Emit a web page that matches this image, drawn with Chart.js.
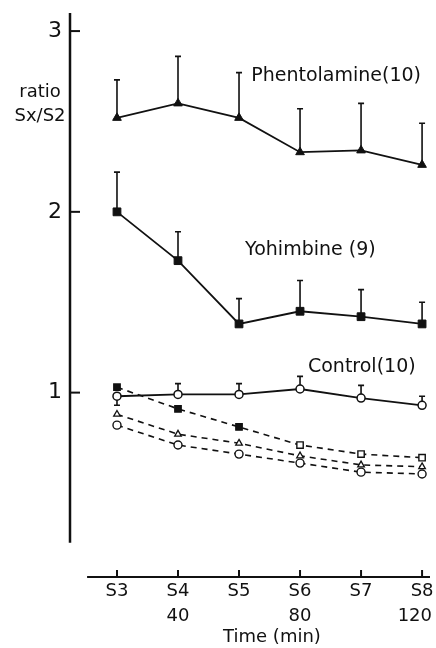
<!DOCTYPE html>
<html>
<head>
<meta charset="utf-8">
<script src="https://cdn.jsdelivr.net/npm/chart.js@4.4.1/dist/chart.umd.min.js"></script>
<style>
  html, body { margin: 0; padding: 0; background: #fff; }
  #wrap { width: 436px; height: 648px; }
</style>
</head>
<body>
<div id="wrap"><canvas id="myChart"></canvas></div>
<script>
'use strict';

// 軸ラベル
const stages = ['S3', 'S4', 'S5', 'S6', 'S7', 'S8'];
const minutes = ['', '40', '', '80', '', '120'];
const yTicks = [1, 2, 3];

// 実線の系列（平均値とSEM）
const phentolamine = [2.52, 2.60, 2.52, 2.33, 2.34, 2.26];
const phentolamineErr = [0.21, 0.26, 0.25, 0.24, 0.26, 0.23];
const yohimbine = [2.00, 1.73, 1.38, 1.45, 1.42, 1.38];
const yohimbineErr = [0.22, 0.16, 0.14, 0.17, 0.15, 0.12];
const control = [0.98, 0.99, 0.99, 1.02, 0.97, 0.93];
// マイナスは下向きのエラーバー
const controlErr = [-0.05, 0.06, 0.06, 0.07, 0.07, 0.05];

// 破線の系列
const dashSquare = [1.03, 0.91, 0.81, 0.71, 0.66, 0.64];
const dashSquareFilled = [true, true, true, false, false, false];
const dashTriangle = [0.88, 0.77, 0.72, 0.65, 0.60, 0.59];
const dashCircle = [0.82, 0.71, 0.66, 0.61, 0.56, 0.55];

const INK = '#111';
const FONT = '"DejaVu Sans", sans-serif';

function toXY(vals) {
    return vals.map((v, i) => ({ x: i, y: v }));
}

// 軸線・目盛り・エラーバー・文字
const decorations = {
    id: 'decorations',
    beforeDatasetsDraw(chart) {
        const ctx = chart.ctx;
        const xs = chart.scales.x, ys = chart.scales.y;
        const area = chart.chartArea;
        ctx.save();
        ctx.strokeStyle = INK;
        ctx.lineCap = 'butt';

        // 縦軸
        ctx.lineWidth = 2.5;
        ctx.beginPath();
        ctx.moveTo(area.left, ys.getPixelForValue(3.1));
        ctx.lineTo(area.left, ys.getPixelForValue(0.17));
        ctx.stroke();
        ctx.lineWidth = 2;
        yTicks.forEach(v => {
            const y = ys.getPixelForValue(v);
            ctx.beginPath();
            ctx.moveTo(area.left, y);
            ctx.lineTo(area.left + 10, y);
            ctx.stroke();
        });

        // 横軸
        const yb = area.bottom;
        ctx.lineWidth = 2.2;
        ctx.beginPath();
        ctx.moveTo(xs.getPixelForValue(-0.49), yb);
        ctx.lineTo(area.right, yb);
        ctx.stroke();
        ctx.lineWidth = 2;
        stages.forEach((s, i) => {
            const x = xs.getPixelForValue(i);
            ctx.beginPath();
            ctx.moveTo(x, yb);
            ctx.lineTo(x, yb - 7);
            ctx.stroke();
        });

        // エラーバー
        ctx.lineWidth = 1.6;
        const bars = [[phentolamine, phentolamineErr], [yohimbine, yohimbineErr], [control, controlErr]];
        bars.forEach(([vals, errs]) => {
            vals.forEach((v, i) => {
                const x = xs.getPixelForValue(i);
                const y0 = ys.getPixelForValue(v);
                const y1 = ys.getPixelForValue(v + errs[i]);
                ctx.beginPath();
                ctx.moveTo(x, y0);
                ctx.lineTo(x, y1);
                ctx.moveTo(x - 3, y1);
                ctx.lineTo(x + 3, y1);
                ctx.stroke();
            });
        });
        ctx.restore();
    },
    afterDraw(chart) {
        const ctx = chart.ctx;
        const xs = chart.scales.x, ys = chart.scales.y;
        const area = chart.chartArea;
        ctx.save();
        ctx.fillStyle = INK;
        ctx.textBaseline = 'middle';

        // 系列名
        ctx.font = '19px ' + FONT;
        ctx.textAlign = 'left';
        ctx.fillText('Phentolamine(10)', xs.getPixelForValue(2.2), ys.getPixelForValue(2.75));
        ctx.fillText('Yohimbine (9)', xs.getPixelForValue(2.1), ys.getPixelForValue(1.79));
        ctx.fillText('Control(10)', xs.getPixelForValue(3.13), ys.getPixelForValue(1.14));

        // 縦軸タイトル
        ctx.font = '18px ' + FONT;
        ctx.textAlign = 'center';
        ctx.fillText('ratio', area.left - 30, ys.getPixelForValue(2.66));
        ctx.fillText('Sx/S2', area.left - 30, ys.getPixelForValue(2.53));

        // 分の目盛り（右端ははみ出さないように寄せる）
        minutes.forEach((m, i) => {
            if (!m) return;
            const w = ctx.measureText(m).width;
            const x = Math.min(xs.getPixelForValue(i), chart.width - w / 2 - 4);
            ctx.fillText(m, x, area.bottom + 39);
        });

        // 横軸タイトル
        ctx.fillText('Time (min)', xs.getPixelForValue(2.54), area.bottom + 60);
        ctx.restore();
    }
};

const config = {
    type: 'line',
    data: {
        datasets: [
            {
                data: toXY(phentolamine),
                borderColor: INK, borderWidth: 1.8,
                pointStyle: 'triangle', pointRadius: 5,
                pointBackgroundColor: INK, pointBorderColor: INK, pointBorderWidth: 1
            },
            {
                data: toXY(yohimbine),
                borderColor: INK, borderWidth: 1.8,
                pointStyle: 'rect', pointRadius: 5.5,
                pointBackgroundColor: INK, pointBorderColor: INK, pointBorderWidth: 1
            },
            {
                data: toXY(control),
                borderColor: INK, borderWidth: 1.8,
                pointStyle: 'circle', pointRadius: 4,
                pointBackgroundColor: '#fff', pointBorderColor: INK, pointBorderWidth: 1.5
            },
            {
                data: toXY(dashSquare),
                borderColor: INK, borderWidth: 1.6, borderDash: [6, 5],
                pointStyle: 'rect', pointRadius: 4.5,
                pointBackgroundColor: dashSquareFilled.map(f => f ? INK : '#fff'),
                pointBorderColor: INK, pointBorderWidth: 1.4
            },
            {
                data: toXY(dashTriangle),
                borderColor: INK, borderWidth: 1.6, borderDash: [6, 5],
                pointStyle: 'triangle', pointRadius: 3.8,
                pointBackgroundColor: '#fff', pointBorderColor: INK, pointBorderWidth: 1.3
            },
            {
                data: toXY(dashCircle),
                borderColor: INK, borderWidth: 1.6, borderDash: [6, 5],
                pointStyle: 'circle', pointRadius: 4,
                pointBackgroundColor: '#fff', pointBorderColor: INK, pointBorderWidth: 1.4
            }
        ]
    },
    options: {
        responsive: true,
        maintainAspectRatio: false,
        animation: false,
        layout: { autoPadding: false, padding: { left: 0, right: 6, top: 13, bottom: 0 } },
        plugins: {
            legend: { display: false },
            tooltip: { enabled: false }
        },
        scales: {
            x: {
                type: 'linear',
                min: -0.77,
                max: 5.13,
                border: { display: false },
                grid: { display: false, drawTicks: false },
                afterBuildTicks: scale => {
                    scale.ticks = stages.map((s, i) => ({ value: i }));
                },
                afterFit: scale => {
                    scale.height = 71;
                    scale.paddingLeft = 0;
                    scale.paddingRight = 0;
                },
                ticks: {
                    autoSkip: false,
                    maxRotation: 0,
                    padding: 2,
                    color: INK,
                    font: { family: FONT, size: 18, lineHeight: 1.4 },
                    callback: (v) => stages[v]
                }
            },
            y: {
                min: -0.02,
                max: 3.1,
                border: { display: false },
                grid: { display: false, drawTicks: false },
                afterBuildTicks: scale => {
                    scale.ticks = yTicks.map(v => ({ value: v }));
                },
                afterFit: scale => {
                    scale.width = 70;
                    scale.paddingTop = 0;
                    scale.paddingBottom = 0;
                },
                ticks: {
                    padding: 8,
                    color: INK,
                    font: { family: FONT, size: 22 }
                }
            }
        }
    },
    plugins: [decorations]
};

const myChart = new Chart(document.getElementById('myChart'), config);
</script>
</body>
</html>
